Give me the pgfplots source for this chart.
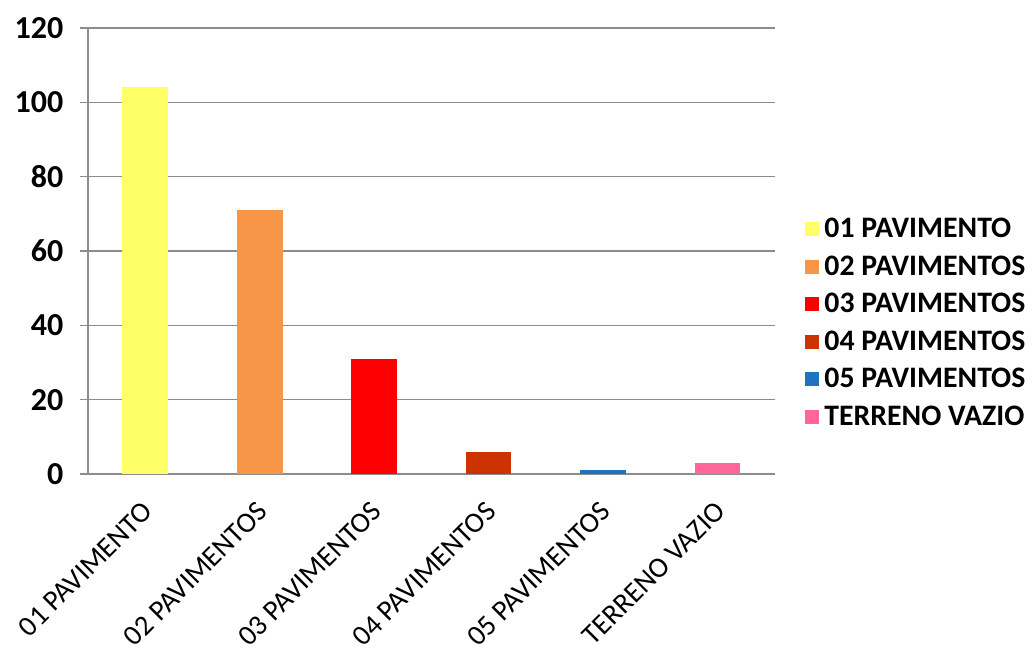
\documentclass[border=0pt]{standalone}
\usepackage{fontspec}
\setmainfont{Carlito}
\usepackage{pgfplots}
\pgfplotsset{compat=1.18}
\definecolor{c1}{HTML}{FFFF66}
\definecolor{c2}{HTML}{F79646}
\definecolor{c3}{HTML}{FF0000}
\definecolor{c4}{HTML}{CC3300}
\definecolor{c5}{HTML}{1F72BE}
\definecolor{c6}{HTML}{FF6699}
\definecolor{gridgray}{HTML}{8C8C8C}
\begin{document}
\begin{tikzpicture}
\begin{axis}[
  scale only axis,
  width=515pt, height=334.5pt,
  xmin=-0.5, xmax=5.5, ymin=0, ymax=120,
  ybar,
  axis x line*=bottom, axis y line*=left,
  axis line style={gridgray, line width=0.8pt},
  xtick={0,1,2,3,4,5},
  xticklabels={01 PAVIMENTO,02 PAVIMENTOS,03 PAVIMENTOS,04 PAVIMENTOS,05 PAVIMENTOS,TERRENO VAZIO},
  x tick style={draw=none},
  minor xtick={-0.5,0.5,1.5,2.5,3.5,4.5,5.5},
  minor x tick style={gridgray, line width=0.8pt},
  minor tick length=8pt,
  tick align=outside,
  ytick={0,20,...,120},
  y tick style={gridgray, line width=0.8pt},
  major tick length=6pt,
  ymajorgrids,
  grid style={gridgray, line width=0.8pt},
  /pgf/number format/assume math mode=true,
  yticklabel style={font=\fontsize{24}{28}\selectfont\bfseries, xshift=-9pt},
  xticklabel style={font=\fontsize{21.5}{25}\selectfont, xshift=-3pt, yshift=-12pt, rotate=45, anchor=north east, inner sep=1pt},
  bar width=0.4,
  legend cell align=left,
  legend style={at={(axis description cs:1.044,0.339)}, anchor=west, draw=none, fill=none,
    font=\fontsize{22.3}{26}\selectfont\bfseries, row sep=9pt, inner sep=0pt,
    nodes={inner sep=1.5pt},
    /tikz/every odd column/.append style={column sep=2.5pt}},
  legend image code/.code={\fill[#1] (0pt,-5.25pt) rectangle (10.5pt,5.25pt);},
]
\addplot[fill=c1, draw=none, bar shift=0pt] coordinates {(0,104)};
\addplot[fill=c2, draw=none, bar shift=0pt] coordinates {(1,71)};
\addplot[fill=c3, draw=none, bar shift=0pt] coordinates {(2,31)};
\addplot[fill=c4, draw=none, bar shift=0pt] coordinates {(3,6)};
\addplot[fill=c5, draw=none, bar shift=0pt] coordinates {(4,1)};
\addplot[fill=c6, draw=none, bar shift=0pt] coordinates {(5,3)};
\legend{01 PAVIMENTO,02 PAVIMENTOS,03 PAVIMENTOS,04 PAVIMENTOS,05 PAVIMENTOS,TERRENO VAZIO}
\end{axis}
\pgfresetboundingbox
\path[use as bounding box] (-66pt,-141pt) rectangle (708pt,355.5pt);
\end{tikzpicture}
\end{document}
